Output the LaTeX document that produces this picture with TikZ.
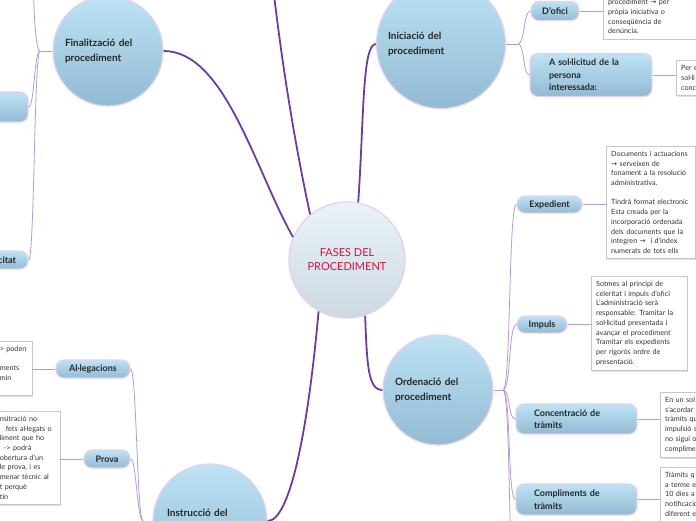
\documentclass[tikz,border=0pt]{standalone}
\usepackage{fontspec}
\setmainfont{Lato}
\newfontfamily\arrowfont{DejaVu Sans}
\usetikzlibrary{shadows}
\definecolor{mainline}{HTML}{6E3B9E}
\definecolor{subline}{HTML}{B59AD3}
\definecolor{rim}{HTML}{E2D2F0}
\definecolor{topblue}{HTML}{BEE3F5}
\definecolor{botblue}{HTML}{92BAD2}
\definecolor{hubtop}{HTML}{EAF3FA}
\definecolor{hubbot}{HTML}{CDD8E0}
\definecolor{titlered}{HTML}{D4143F}
\newcommand{\ra}{{\arrowfont →}}

\begin{document}
\begin{tikzpicture}[x=1pt, y=-1pt,
    hub/.style={circle, draw=rim, line width=1.3pt, top color=hubtop, bottom color=hubbot,
      minimum size=116pt, inner sep=0pt, align=center, text=titlered,
      font=\fontsize{11}{14}\selectfont},
    topic/.style={circle, draw=rim, line width=1.3pt, top color=topblue, bottom color=botblue,
      inner sep=0pt, align=left, text=black!85, font=\bfseries\fontsize{10}{15}\selectfont},
    sub/.style={rounded corners=8pt, draw=rim, line width=1.2pt, top color=topblue,
      bottom color=botblue, inner sep=0pt, align=left, text=black!85,
      font=\bfseries\fontsize{9}{12.5}\selectfont},
    note/.style={draw=black!22, fill=white, inner sep=5pt, align=left, text=black!80,
      font=\fontsize{7.2}{9.7}\selectfont,
      drop shadow={shadow xshift=1pt, shadow yshift=-1.5pt, opacity=0.25}},
    trunk/.style={mainline, line width=1.8pt},
    twig/.style={subline, line width=0.8pt}]
    \useasboundingbox (0,0) rectangle (696,520);
    \clip (0,0) rectangle (696,520);

    % Topics
    \node[hub] (fases) at (347,260) {FASES DEL\\PROCEDIMENT};
    \node[topic, minimum size=110pt, text width=86pt] (final) at (108,51) {Finalització del\\procediment};
    \node[topic, minimum size=129pt, text width=106pt] (inici) at (441,44) {Iniciació del\\procediment};
    \node[topic, minimum size=110pt, text width=86pt] (orden) at (438,390) {Ordenació del\\procediment};
    \node[topic, minimum size=114pt, text width=86pt] (instr) at (210,521) {Instrucció del\\procediment};
    \coordinate (hidden) at (268,-60);

    % Subtopics
    \node[sub, minimum width=48pt, minimum height=19pt] (dofici) at (555,11) {D'ofici};
    \node[sub, minimum width=122pt, minimum height=43pt, text width=84pt] (solicitud) at (591,75) {A sol·licitud de la\\persona\\interessada:};
    \node[sub, minimum width=65pt, minimum height=17pt] (exped) at (549.5,204.5) {Expedient};
    \node[sub, minimum width=50pt, minimum height=17pt] (impuls) at (542,324.5) {Impuls};
    \node[sub, minimum width=121pt, minimum height=30pt, text width=85pt] (concent) at (576.5,419) {Concentració de\\tràmits};
    \node[sub, minimum width=121pt, minimum height=31pt, text width=85pt] (complim) at (576.5,499.5) {Compliments de\\tràmits};
    \node[sub, minimum width=74pt, minimum height=18pt] (alleg) at (93,369) {Al·legacions};
    \node[sub, minimum width=46pt, minimum height=18pt] (prova) at (107,459) {Prova};
    \node[sub, minimum width=90pt, minimum height=30pt] (finA) at (-17,107) {};
    \node[sub, minimum width=90pt, minimum height=18pt, text width=66pt, align=right] (finB) at (-17,260) {citat};

    % Notes
    \node[note, anchor=south west, text width=86pt] (n1) at (603,39) {procediment \ra{} per\\pròpia iniciativa o\\conseqüència de\\denúncia.};
    \node[note, anchor=west, text width=40pt] (n2) at (676,78) {Per e\\sol·li\\conc};
    \node[note, anchor=north west, text width=79pt] (n3) at (606,146) {Documents i actuacions\\\ra{} serveixen de\\fonament a la resolució\\administrativa.\\[9.7pt]Tindrà format electronic\\Esta creada per la\\incorporació ordenada\\dels documents que la\\integren \ra{}\ \ i d'índex\\numerats de tots ells};
    \node[note, anchor=north west, text width=86pt] (n4) at (591,276) {Sotmes al principi de\\celeritat i impuls d'ofici\\L'administració serà\\responsable: Tramitar la\\sol·licitud presentada i\\avançar el procediment\\Tramitar els expedients\\per rigorós ordre de\\presentació.};
    \node[note, anchor=north west, text width=60pt] (n5) at (660,392) {En un sol\\s'acordar\\tràmits qu\\impulsió s\\no sigui o\\complime};
    \node[note, anchor=north west, text width=60pt] (n6) at (660,467) {Tràmits q\\a terme e\\10 dies a\\notificacio\\diferent e};
    \node[note, anchor=north east, text width=27pt] (n7) at (32,341) {> poden\\\mbox{}\\ments\\min\\\mbox{}};
    \node[note, anchor=north east, text width=55pt] (n8) at (60,411) {nsitració no\\\hspace*{6pt}fets al·legats o\\liment que ho\\\hspace*{4pt}-> podrà\\obertura d'un\\le prova, i es\\menar tècnic al\\t perquè\\tin};

    % Main branches
    \draw[trunk] (fases.157) .. controls (255,170) and (225,51) .. (final.east);
    \draw[trunk] (fases.129) .. controls (292,130) and (278,40) .. (hidden);
    \draw[trunk] (fases.79) .. controls (364,120) and (362,44) .. (inici.west);
    \draw[trunk] (fases.-72) .. controls (367,365) and (368,390) .. (orden.west);
    \draw[trunk] (fases.-119) .. controls (308,430) and (290,521) .. (instr.east);

    % Branch points
    \coordinate (kI) at (518,44);
    \coordinate (kO) at (503,390);
    \coordinate (kF) at (40,51);
    \coordinate (kN) at (143,521);
    \coordinate (oBelow) at (516,600);
    \coordinate (fAbove) at (33,-40);

    \draw[twig] (inici.east) -- (kI);
    \draw[twig] (kI) .. controls +(7,0) and +(-7,0) .. (dofici.west);
    \draw[twig] (kI) .. controls +(7,0) and +(-7,0) .. (solicitud.west);

    \draw[twig] (orden.east) -- (kO);
    \draw[twig] (kO) .. controls +(8,0) and +(-8,0) .. (exped.west);
    \draw[twig] (kO) .. controls +(8,0) and +(-8,0) .. (impuls.west);
    \draw[twig] (kO) .. controls +(8,0) and +(-8,0) .. (concent.west);
    \draw[twig] (kO) .. controls +(8,0) and +(-8,0) .. (complim.west);
    \draw[twig] (kO) .. controls +(8,0) and +(-8,0) .. (oBelow);

    \draw[twig] (final.west) -- (kF);
    \draw[twig] (kF) .. controls +(-6,0) and +(6,0) .. (finA.east);
    \draw[twig] (kF) .. controls +(-6,0) and +(6,0) .. (finB.east);
    \draw[twig] (kF) .. controls +(-6,0) and +(0,20) .. (fAbove);

    \draw[twig] (instr.west) -- (kN);
    \draw[twig] (kN) .. controls +(-6,0) and +(6,0) .. (alleg.east);
    \draw[twig] (kN) .. controls +(-6,0) and +(6,0) .. (prova.east);

    % Note links
    \draw[twig] (dofici.east) -- (dofici.east -| n1.west);
    \draw[twig] (solicitud.east) -- (solicitud.east -| n2.west);
    \draw[twig] (exped.east) -- (exped.east -| n3.west);
    \draw[twig] (impuls.east) -- (impuls.east -| n4.west);
    \draw[twig] (concent.east) -- (concent.east -| n5.west);
    \draw[twig] (complim.east) -- (complim.east -| n6.west);
    \draw[twig] (alleg.west) -- (alleg.west -| n7.east);
    \draw[twig] (prova.west) -- (prova.west -| n8.east);
\end{tikzpicture}
\end{document}
